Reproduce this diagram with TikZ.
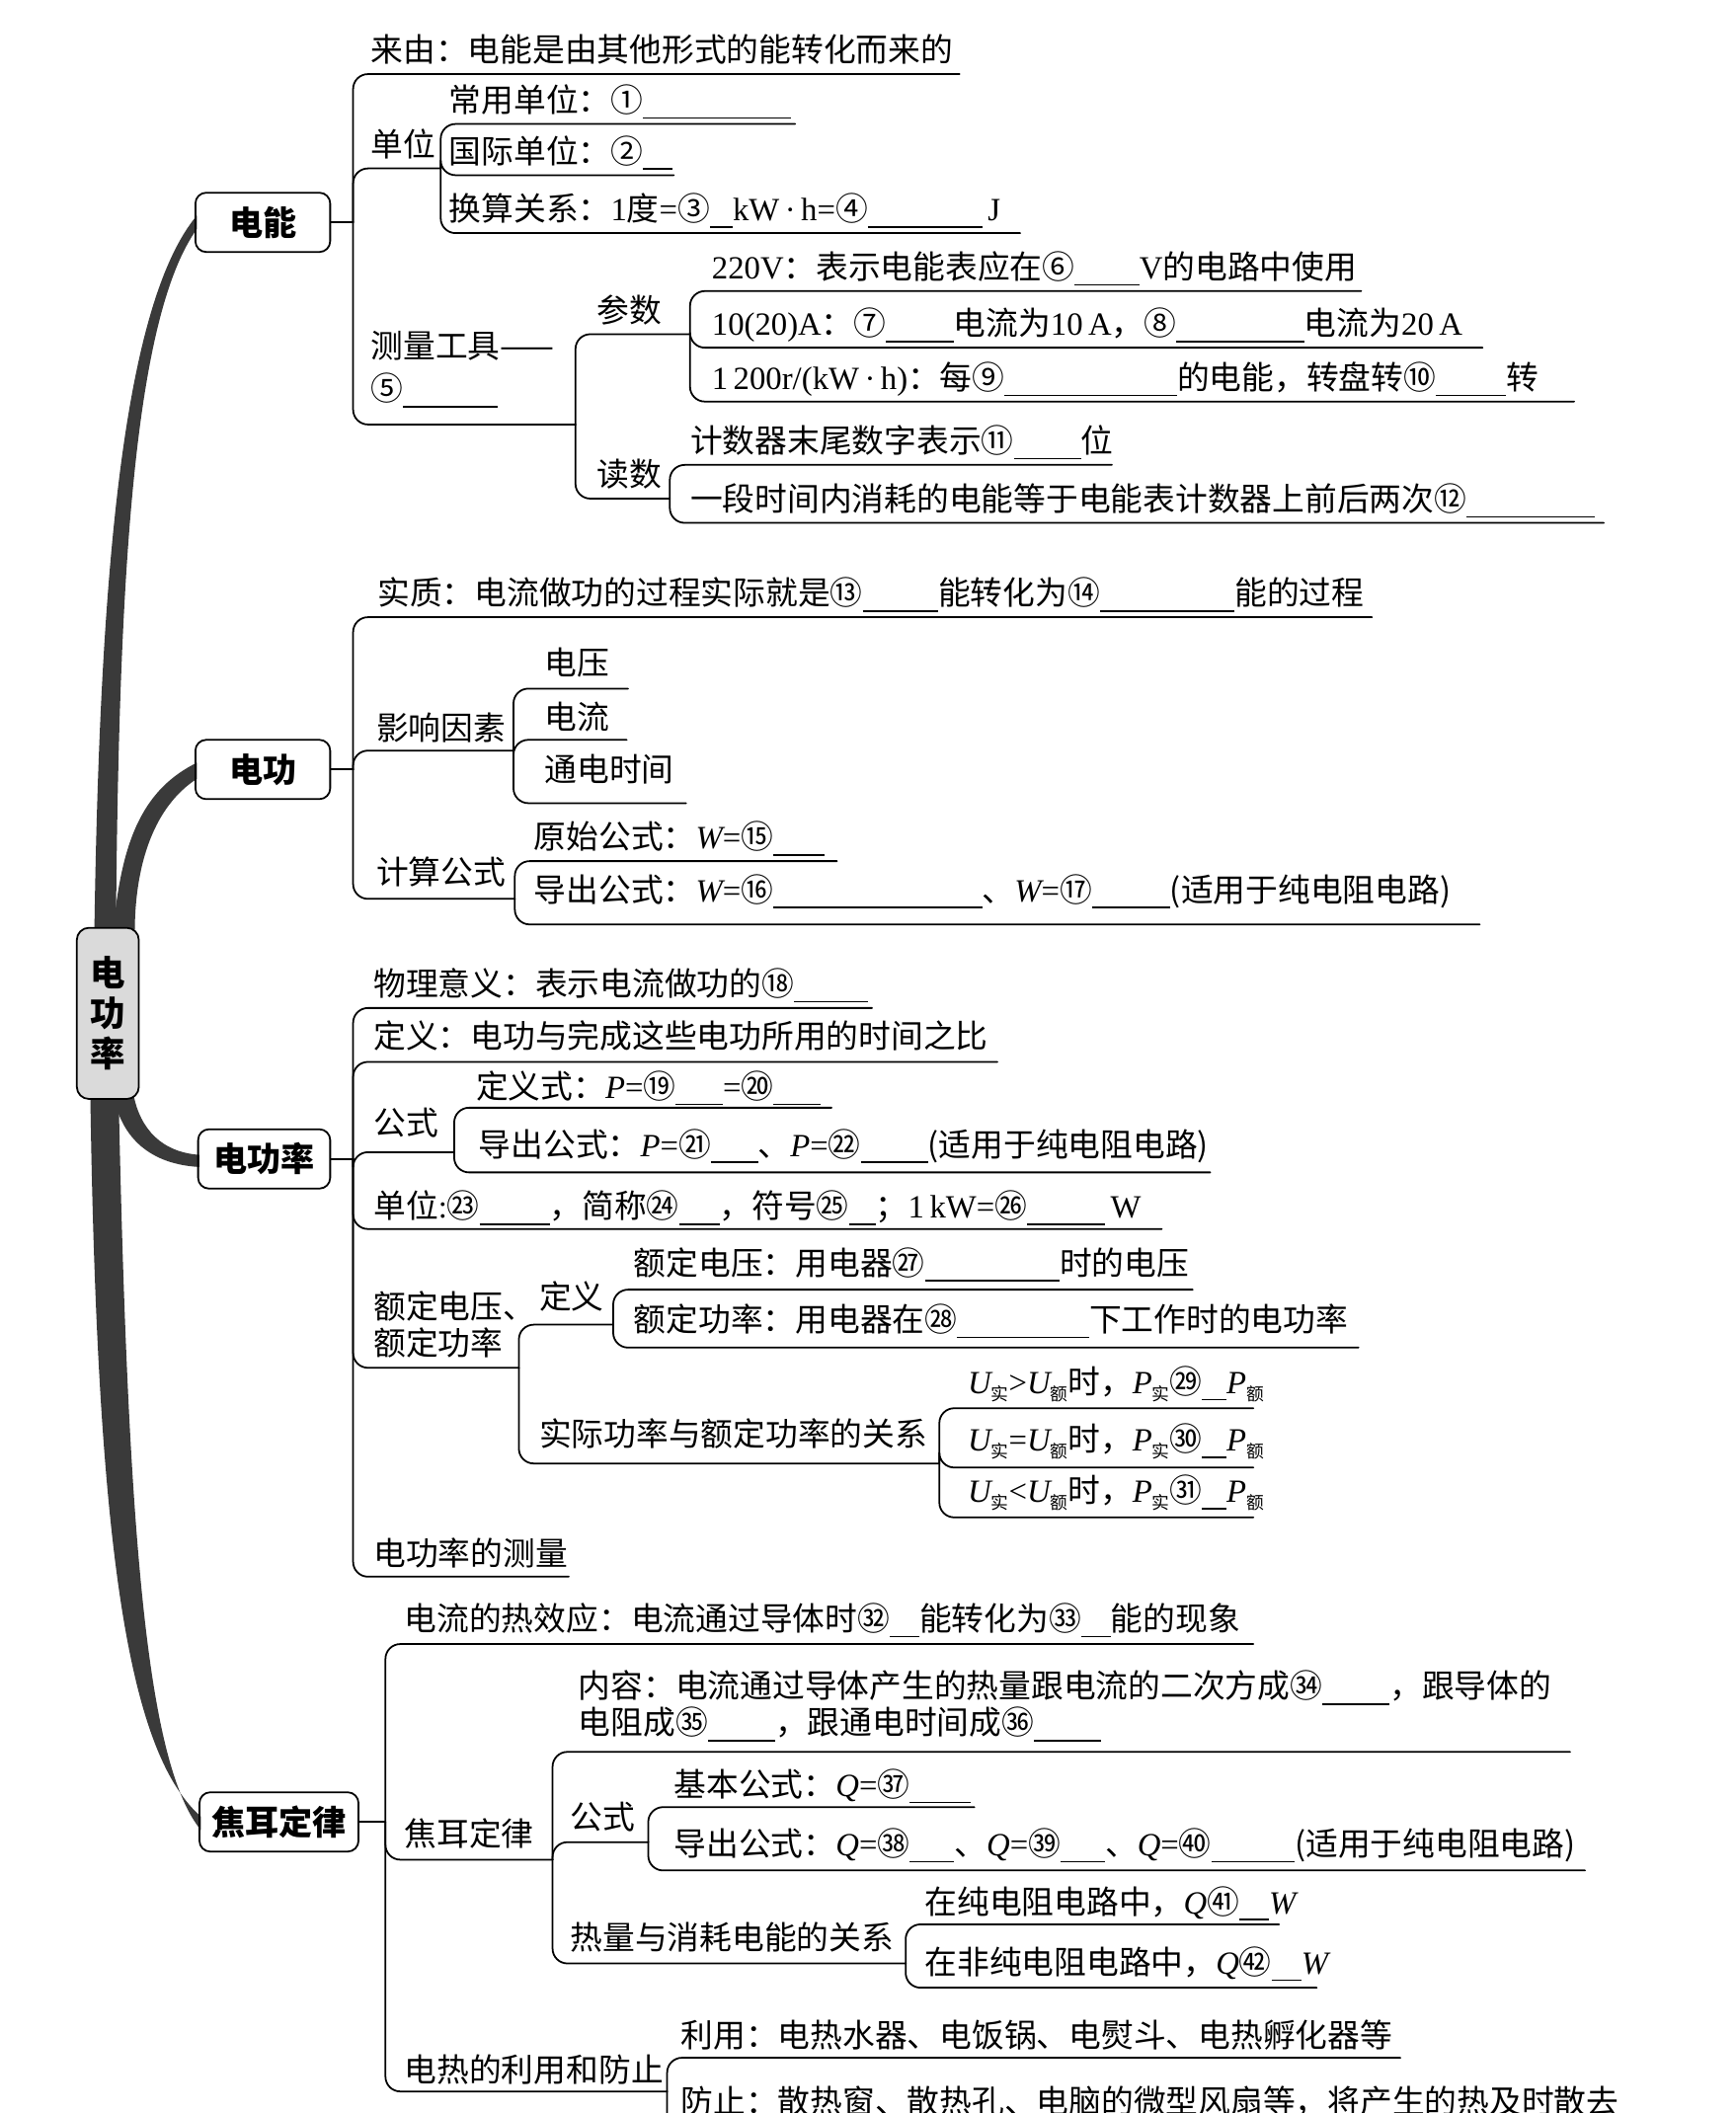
\documentclass[tikz,border=0pt]{standalone}
\usepackage{fontspec}
\newfontfamily\cjk{Noto Sans CJK SC}
\newfontfamily\rmen{Liberation Serif}
\definecolor{trunkgray}{RGB}{58,58,58}
\definecolor{hubgray}{RGB}{218,218,218}
\newcommand\lat[1]{{\rmen #1}}
\newcommand\ivar[1]{{\rmen\itshape #1}}
\newcommand\xsub[1]{\raisebox{-5pt}{\fontsize{13}{13}\selectfont #1}}
\newcommand\blk[1]{\rule[-5pt]{#1pt}{1.1pt}}

\begin{document}
\begin{tikzpicture}[x=1pt,y=-1pt, line cap=round, line join=round]

\tikzset{
  leaf/.style={anchor=base west, inner sep=0pt, font=\cjk\fontsize{24}{30}\selectfont},
  multi/.style={anchor=west, align=left},
  topic/.style={draw, rounded corners=8pt, line width=1.3pt, minimum height=44pt, inner sep=2pt, font=\cjk\bfseries\fontsize{25}{30}\selectfont},
  hub/.style={draw, fill=hubgray, rounded corners=9pt, line width=1.3pt, minimum width=46pt, minimum height=127pt, inner sep=0pt, align=center, font=\cjk\bfseries\fontsize{26}{30}\selectfont},
  twig/.style={line width=1.3pt, rounded corners=11pt},
  trunk/.style={fill=trunkgray}
}

\clip (0,0) rectangle (1288,1568);
\fill[white] (0,0) rectangle (1288,1568);

\fill[trunk] (70,692) .. controls (74,420) and (92,225) .. (146,160) -- (146,170) .. controls (100,235) and (88,420) .. (86,692) -- cycle;
\fill[trunk] (84,692) .. controls (90,620) and (108,585) .. (146,566) -- (146,578) .. controls (115,598) and (100,640) .. (100,692) -- cycle;
\fill[trunk] (99,812) .. controls (104,838) and (120,855) .. (148,857) -- (148,866) .. controls (112,864) and (90,845) .. (84,812) -- cycle;
\fill[trunk] (67,812) .. controls (72,1150) and (95,1300) .. (149,1348) -- (149,1358) .. controls (110,1310) and (95,1150) .. (88,812) -- cycle;

\node[hub] (root) at (80,752) {电\\功\\率};

\node[topic, minimum width=100pt] (dn) at (195,165) {电能};
\coordinate (dnb) at (262,165);
\draw[twig] (dn.east) -- (dnb);
\node[leaf] (ly) at (275,46) {来由：电能是由其他形式的能转化而来的};
\draw[twig] (dnb) |- (712,55);
\node[leaf] (dw) at (275,116) {单位};
\draw[twig] (dnb) |- (327,125);
\coordinate (dwb) at (327,125);
\node[leaf] (cy) at (333,83) {常用单位：①\blk{110}};
\draw[twig] (dwb) |- (590,92);
\node[leaf] (gj) at (333,121) {国际单位：②\blk{22}};
\draw[twig] (dwb) |- (500,130);
\node[leaf] (hs) at (333,164) {换算关系：\lat{1}度\lat{=}③\blk{17}\lat{kW\,·\,h=}④\blk{85}\,\lat{J}};
\draw[twig] (dwb) |- (757,173);
\node[leaf, multi, font=\cjk\fontsize{24}{32}\selectfont] (cl) at (275,274) {测量工具——\\⑤\blk{70}};
\draw[twig] (dnb) |- (427,315);
\coordinate (clb) at (427,315);
\node[leaf] (cs) at (443,239) {参数};
\draw[twig] (clb) |- (512,248);
\coordinate (csb) at (512,248);
\node[leaf] (p1) at (528,207) {\lat{220V}：表示电能表应在⑥\blk{48}\lat{V}的电路中使用};
\draw[twig] (csb) |- (1010,216);
\node[leaf] (p2) at (528,249) {\lat{10(20)A}：⑦\blk{50}电流为\lat{10\,A}，⑧\blk{95}电流为\lat{20\,A}};
\draw[twig] (csb) |- (1100,258);
\node[leaf] (p3) at (528,289) {\lat{1\,200r/(kW\,·\,h)}：每⑨\blk{128}的电能，转盘转⑩\blk{52}转};
\draw[twig] (csb) |- (1168,298);
\node[leaf] (ds) at (443,361) {读数};
\draw[twig] (clb) |- (497,370);
\coordinate (dsb) at (497,370);
\node[leaf] (r1) at (512,336) {计数器末尾数字表示⑪\blk{50}位};
\draw[twig] (dsb) |- (825,345);
\node[leaf] (r2) at (512,379) {一段时间内消耗的电能等于电能表计数器上前后两次⑫\blk{95}};
\draw[twig] (dsb) |- (1190,388);

\node[topic, minimum width=100pt] (dg) at (195,571) {电功};
\coordinate (dgb) at (262,571);
\draw[twig] (dg.east) -- (dgb);
\node[leaf] (sz) at (280,449) {实质：电流做功的过程实际就是⑬\blk{56}能转化为⑭\blk{100}能的过程};
\draw[twig] (dgb) |- (1018,458);
\node[leaf] (yx) at (279,549) {影响因素};
\draw[twig] (dgb) |- (381,557);
\coordinate (yxb) at (381,557);
\node[leaf] (f1) at (404,501) {电压};
\draw[twig] (yxb) |- (466,511);
\node[leaf] (f2) at (404,541) {电流};
\draw[twig] (yxb) |- (465,549);
\node[leaf] (f3) at (404,580) {通电时间};
\draw[twig] (yxb) |- (509,596);
\node[leaf] (js) at (279,656) {计算公式};
\draw[twig] (dgb) |- (382,667);
\coordinate (jsb) at (382,667);
\node[leaf] (w1) at (396,630) {原始公式：\ivar{W}\lat{=}⑮\blk{38}};
\draw[twig] (jsb) |- (621,639);
\node[leaf] (w2) at (396,669) {导出公式：\ivar{W}\lat{=}⑯\blk{155}、\ivar{W}\lat{=}⑰\blk{58}(适用于纯电阻电路)};
\draw[twig] (jsb) |- (1098,686);

\node[topic, minimum width=98pt] (gl) at (196,860) {电功率};
\coordinate (glb) at (262,860);
\draw[twig] (gl.east) -- (glb);
\node[leaf] (wl) at (277,739) {物理意义：表示电流做功的⑱\blk{55}};
\draw[twig] (glb) |- (647,748);
\node[leaf] (dy) at (277,778) {定义：电功与完成这些电功所用的时间之比};
\draw[twig] (glb) |- (740,788);
\node[leaf] (gs) at (277,842) {公式};
\draw[twig] (glb) |- (337,855);
\coordinate (gsb) at (337,855);
\node[leaf] (g1) at (353,815) {定义式：\ivar{P}\lat{=}⑲\blk{35}\lat{=}⑳\blk{35}};
\draw[twig] (gsb) |- (617,822);
\node[leaf] (g2) at (355,858) {导出公式：\ivar{P}\lat{=}㉑\blk{35}、\ivar{P}\lat{=}㉒\blk{50}(适用于纯电阻电路)};
\draw[twig] (gsb) |- (898,870);
\node[leaf] (dw2) at (277,904) {单位\lat{:}㉓\blk{52}，简称㉔\blk{30}，符号㉕\blk{20}；\lat{1\,kW=}㉖\blk{58}\lat{\,W}};
\draw[twig] (glb) |- (862,912);
\node[leaf, multi, font=\cjk\fontsize{24}{27}\selectfont] (ed) at (277,983) {额定电压、\\额定功率};
\draw[twig] (glb) |- (385,1015);
\coordinate (edb) at (385,1015);
\node[leaf] (dy2) at (400,971) {定义};
\draw[twig] (edb) |- (455,983);
\coordinate (dy2b) at (455,983);
\node[leaf] (e1) at (470,946) {额定电压：用电器㉗\blk{100}时的电压};
\draw[twig] (dy2b) |- (885,957);
\node[leaf] (e2) at (470,988) {额定功率：用电器在㉘\blk{98}下工作时的电功率};
\draw[twig] (dy2b) |- (1008,1000);
\node[leaf] (sj) at (400,1073) {实际功率与额定功率的关系};
\draw[twig] (edb) |- (697,1086);
\coordinate (sjb) at (697,1086);
\node[leaf] (u1) at (718,1034) {\ivar{U}\xsub{实}\lat{>}\ivar{U}\xsub{额}时，\ivar{P}\xsub{实}㉙\blk{18}\ivar{P}\xsub{额}};
\draw[twig] (sjb) |- (930,1045);
\node[leaf] (u2) at (718,1077) {\ivar{U}\xsub{实}\lat{=}\ivar{U}\xsub{额}时，\ivar{P}\xsub{实}㉚\blk{18}\ivar{P}\xsub{额}};
\draw[twig] (sjb) |- (930,1089);
\node[leaf] (u3) at (718,1115) {\ivar{U}\xsub{实}\lat{<}\ivar{U}\xsub{额}时，\ivar{P}\xsub{实}㉛\blk{18}\ivar{P}\xsub{额}};
\draw[twig] (sjb) |- (930,1126);
\node[leaf] (cl2) at (277,1162) {电功率的测量};
\draw[twig] (glb) |- (422,1170);

\node[topic, minimum width=118pt] (je) at (207,1352) {焦耳定律};
\coordinate (jeb) at (286,1352);
\draw[twig] (je.east) -- (jeb);
\node[leaf] (rx) at (300,1210) {电流的热效应：电流通过导体时㉜\blk{22}能转化为㉝\blk{22}能的现象};
\draw[twig] (jeb) |- (930,1220);
\node[leaf] (jd) at (300,1370) {焦耳定律};
\draw[twig] (jeb) |- (410,1380);
\coordinate (jdb) at (410,1380);
\node[leaf, multi, font=\cjk\fontsize{24}{27}\selectfont] (nr) at (429,1266) {内容：电流通过导体产生的热量跟电流的二次方成㉞\blk{50}，跟导体的\\电阻成㉟\blk{50}，跟通电时间成㊱\blk{50}};
\draw[twig] (jdb) |- (1165,1300);
\node[leaf] (gs2) at (423,1357) {公式};
\draw[twig] (jdb) |- (481,1367);
\coordinate (gs2b) at (481,1367);
\node[leaf] (q1) at (500,1333) {基本公式：\ivar{Q}\lat{=}㊲\blk{45}};
\draw[twig] (gs2b) |- (723,1341);
\node[leaf] (q2) at (500,1377) {导出公式：\ivar{Q}\lat{=}㊳\blk{33}、\ivar{Q}\lat{=}㊴\blk{33}、\ivar{Q}\lat{=}㊵\blk{62}(适用于纯电阻电路)};
\draw[twig] (gs2b) |- (1176,1388);
\node[leaf] (rl) at (423,1447) {热量与消耗电能的关系};
\draw[twig] (jdb) |- (672,1457);
\coordinate (rlb) at (672,1457);
\node[leaf] (h1) at (686,1420) {在纯电阻电路中，\ivar{Q}㊶\blk{22}\ivar{W}};
\draw[twig] (rlb) |- (949,1428);
\node[leaf] (h2) at (686,1465) {在非纯电阻电路中，\ivar{Q}㊷\blk{22}\ivar{W}};
\draw[twig] (rlb) |- (977,1475);
\node[leaf] (ly2) at (300,1545) {电热的利用和防止};
\draw[twig] (jeb) |- (495,1552);
\coordinate (ly2b) at (495,1552);
\node[leaf] (ly3) at (505,1519) {利用：电热水器、电饭锅、电熨斗、电热孵化器等};
\draw[twig] (ly2b) |- (1039,1527);
\node[leaf] (fz) at (505,1568) {防止：散热窗、散热孔、电脑的微型风扇等，将产生的热及时散去};
\draw[twig] (ly2b) |- (1205,1580);

\end{tikzpicture}
\end{document}
